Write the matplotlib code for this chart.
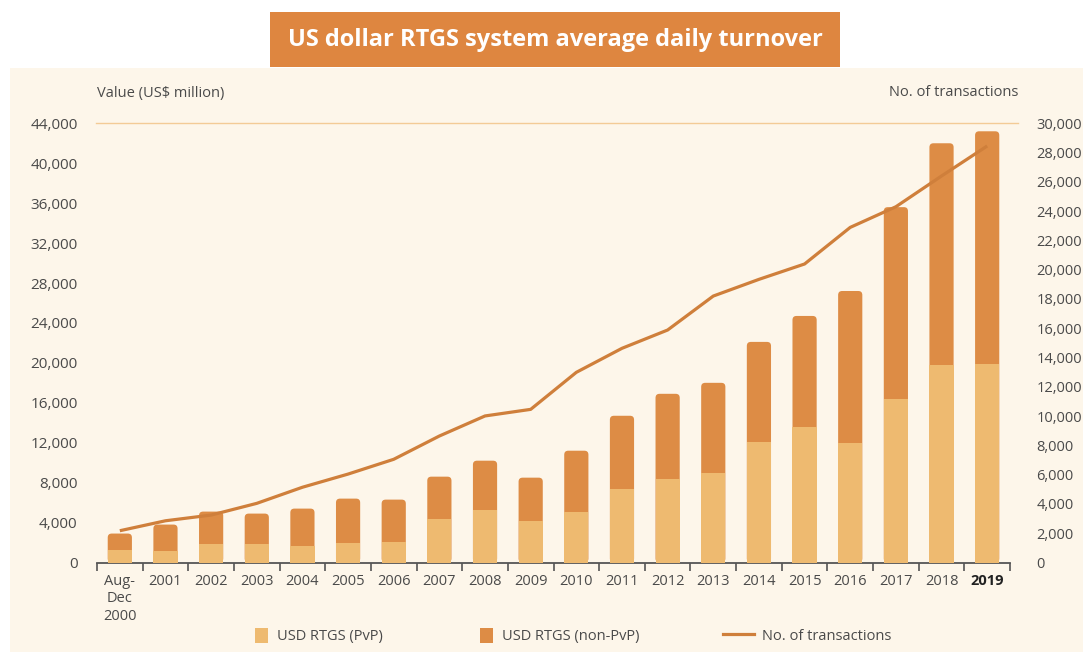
import matplotlib
matplotlib.use("Agg")
import matplotlib.pyplot as plt
from matplotlib.patches import FancyBboxPatch, Rectangle, Patch
from matplotlib.lines import Line2D
import numpy as np

plt.rcParams['font.family'] = ['Open Sans', 'DejaVu Sans']

# data
categories = ["Aug-\nDec\n2000", "2001", "2002", "2003", "2004", "2005", "2006",
              "2007", "2008", "2009", "2010", "2011", "2012", "2013", "2014",
              "2015", "2016", "2017", "2018", "2019"]
pvp = [1300, 1200, 1900, 1900, 1650, 2000, 2100, 4400, 5300, 4200,
       5100, 7400, 8400, 9000, 12100, 13600, 12000, 16400, 19800, 19900]
non_pvp = [1600, 2600, 3200, 3000, 3750, 4400, 4200, 4200, 4900, 4300,
           6100, 7300, 8500, 9000, 10000, 11100, 15200, 19200, 22200, 23300]
transactions = [2170, 2850, 3240, 4040, 5140, 6040, 7050, 8640, 10010, 10460,
                12990, 14630, 15880, 18200, 19340, 20390, 22890, 24300, 26400, 28450]
left_ticks = list(range(0, 44001, 4000))
right_ticks = list(range(0, 30001, 2000))

# colours
CREAM = '#FDF6EA'
LIGHT = '#EEBA70'
DARK = '#DD8C45'
LINE = '#CF7F3B'
TITLE_BOX = '#DE8640'
TEXT = '#4A4A4A'
AXIS = '#555555'

W, H = 1083, 652
fig = plt.figure(figsize=(W / 100, H / 100), dpi=100)
fig.patch.set_facecolor('white')

# cream panel + title box (behind the axes)
fig.patches.append(Rectangle((10 / W, 0), 1 - 10 / W, (H - 68) / H,
                             transform=fig.transFigure, facecolor=CREAM,
                             edgecolor='none', zorder=-2))
fig.patches.append(Rectangle((270 / W, (H - 67) / H), 570 / W, 55 / H,
                             transform=fig.transFigure, facecolor=TITLE_BOX,
                             edgecolor='none', zorder=-2))
fig.text(555 / W, 1 - 40 / H, "US dollar RTGS system average daily turnover",
         color='white', fontweight='bold', fontsize=17, ha='center', va='center')

ax_l, ax_r, ax_b, ax_t = 97, 1010, 562.5, 123.3
ax = fig.add_axes([ax_l / W, 1 - ax_b / H, (ax_r - ax_l) / W, (ax_b - ax_t) / H])
ax.set_facecolor('none')

n = len(categories)
x = np.arange(n)
ax.set_xlim(-0.5, n - 0.5)
ax.set_ylim(0, 44000)

# stacked bars: full-height rounded bar underneath, PvP part drawn over it
bw = 0.53
px_per_x = (ax_r - ax_l) / n
px_per_y = (ax_b - ax_t) / 44000
aspect = px_per_x / px_per_y
r = 4 / px_per_x
totals = [a + b for a, b in zip(pvp, non_pvp)]
for xi, tot in zip(x, totals):
    ax.add_patch(FancyBboxPatch((xi - bw / 2, 0), bw, tot,
                                boxstyle=f"round,pad=0,rounding_size={r}",
                                mutation_aspect=aspect, facecolor=DARK,
                                edgecolor='none', zorder=2))
ax.bar(x, pvp, width=bw, color=LIGHT, zorder=3)

# top reference line
ax.axhline(44000, xmin=-0.001, xmax=1.009, color='#F3CB96', lw=1, clip_on=False)

for s in ['top', 'left', 'right']:
    ax.spines[s].set_visible(False)
ax.spines['bottom'].set_color(AXIS)
ax.spines['bottom'].set_linewidth(1.3)

ax.set_xticks(x)
ax.set_xticklabels(categories, linespacing=1.25)
ax.set_xticks(np.arange(-0.5, n, 1), minor=True)
ax.tick_params(axis='x', which='major', length=0, pad=8, labelsize=10.5, labelcolor=TEXT)
ax.tick_params(axis='x', which='minor', length=6, width=1.2, color=AXIS, direction='out')
ax.get_xticklabels()[-1].set_fontweight('bold')
ax.get_xticklabels()[-1].set_color('#222222')

ax.set_yticks(left_ticks)
ax.set_yticklabels([f"{v:,}" for v in left_ticks])
ax.tick_params(axis='y', length=0, pad=14, labelsize=11, labelcolor=TEXT)

# transactions on the right axis
ax2 = ax.twinx()
ax2.set_ylim(0, 30000)
ax2.plot(x, transactions, color=LINE, lw=2.3, zorder=5, solid_capstyle='butt')
for s in ax2.spines.values():
    s.set_visible(False)
ax2.set_yticks(right_ticks)
ax2.set_yticklabels([f"{v:,}" for v in right_ticks])
ax2.tick_params(axis='y', length=0, pad=19, labelsize=10.5, labelcolor=TEXT)

fig.text(ax_l / W, 1 - 93 / H, r"Value (US\$ million)", ha='left', va='center',
         fontsize=10.5, color=TEXT)
fig.text(1018 / W, 1 - 93 / H, "No. of transactions", ha='right', va='center',
         fontsize=10.5, color=TEXT)

# legend, three pieces laid out like the reference
leg_y = 1 - 636 / H
legend_items = [
    (Patch(facecolor=LIGHT, edgecolor='none'), "USD RTGS (PvP)", 255, 0.9),
    (Patch(facecolor=DARK, edgecolor='none'), "USD RTGS (non-PvP)", 480, 0.9),
    (Line2D([], [], color=LINE, lw=2.3), "No. of transactions", 723, 2.1),
]
for handle, label, lx, hl in legend_items:
    fig.legend([handle], [label], loc='center left', bbox_to_anchor=(lx / W, leg_y),
               frameon=False, fontsize=10.5, handlelength=hl, handleheight=1.2,
               handletextpad=0.6, borderpad=0, borderaxespad=0, labelcolor=TEXT)

fig.savefig('out.png', dpi=100)
